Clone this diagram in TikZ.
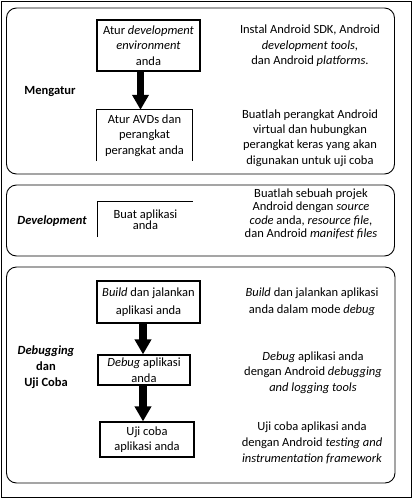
\documentclass[tikz,border=0pt]{standalone}
\usepackage{fontspec}
\setmainfont{Carlito}
\usetikzlibrary{arrows.meta}
\begin{document}
\begin{tikzpicture}[x=1pt,y=-1pt,
  txt/.style={align=center, font=\fontsize{12.5}{15.5}\selectfont, inner sep=0pt},
  lbl/.style={align=center, font=\bfseries\fontsize{12.5}{16}\selectfont, inner sep=0pt},
  panel/.style={draw, line width=0.9pt, rounded corners=10pt},
  boxln/.style={line width=1.2pt},
  blk/.style={line width=7.5pt, -{Triangle[width=16pt,length=15pt]}},
]
\useasboundingbox (0,0) rectangle (413,499);
\draw[line width=1.3pt] (1.5,1.5) rectangle (411.5,497.5);

% panels
\draw[panel] (6.5,8) rectangle (394.5,174);
\draw[panel] (6.5,185) rectangle (394.5,256);
\draw[panel] (6.5,267) rectangle (395,483);

% ---------- Mengatur ----------
\node[lbl] (m) at (50,92) {Mengatur};
\node[txt, draw, boxln, minimum width=103pt, minimum height=51pt] (b1) at (148.5,45.5)
  {Atur \textit{development}\\\textit{environment}\\anda};
\node[txt, minimum width=95pt, minimum height=51pt] (b2) at (144.5,135.5)
  {Atur AVDs dan\\perangkat\\perangkat anda};
\draw[boxln] (b2.south west) -- (b2.north west) -- (b2.north east) -- (b2.south east);
\coordinate (a1) at (140.5,0);
\draw[blk] (b1.south -| a1) -- (b2.north -| a1);

\node[txt] (r1) at (310,46) {Instal Android SDK, Android\\\textit{development tools,}\\dan Android \textit{platforms}.};
\node[txt, font=\fontsize{12.5}{15.3}\selectfont] (r2) at (310,138) {Buatlah perangkat Android\\virtual dan hubungkan\\perangkat keras yang akan\\digunakan untuk uji coba};

% ---------- Development ----------
\node[lbl, font=\bfseries\itshape\fontsize{12.5}{16}\selectfont] (d) at (52,221) {Development};
\node[txt, font=\fontsize{12.5}{11.5}\selectfont, minimum width=95pt, minimum height=35pt] (b3) at (145.5,219.5)
  {Buat aplikasi\\anda};
\draw[boxln] (b3.south west) -- (b3.north west) -- (b3.north east);
\node[txt, font=\fontsize{12.5}{13.5}\selectfont] (r3) at (311,214)
  {Buatlah sebuah projek\\Android dengan \textit{source}\\\textit{code} anda, \textit{resource file},\\dan Android \textit{manifest files}};

% ---------- Debugging dan Uji Coba ----------
\node[lbl] (dbg) at (46,367) {\textit{Debugging}\\dan\\Uji Coba};
\node[txt, font=\fontsize{12.5}{17.5}\selectfont, draw, boxln, minimum width=103pt, minimum height=42pt] (b4) at (148.5,302)
  {\textit{Build} dan jalankan\\aplikasi anda};
\node[txt, font=\fontsize{12.5}{16}\selectfont, draw, boxln, minimum width=92pt, minimum height=30pt] (b5) at (144,370)
  {\textit{Debug} aplikasi\\anda};
\node[txt, font=\fontsize{12.5}{14.5}\selectfont, draw, boxln, minimum width=94pt, minimum height=35pt] (b6) at (147,439.5)
  {Uji coba\\aplikasi anda};
\coordinate (a2) at (143,0);
\draw[blk] (b4.south -| a2) -- (b5.north -| a2);
\draw[blk] (b5.south -| a2) -- (b6.north -| a2);

\node[txt, font=\fontsize{12.5}{17}\selectfont] (r4) at (312,301.5)
  {\textit{Build} dan jalankan aplikasi\\anda dalam mode \textit{debug}};
\node[txt] (r5) at (313,372.5)
  {\textit{Debug} aplikasi anda\\dengan Android \textit{debugging}\\\textit{and logging tools}};
\node[txt, font=\fontsize{12.5}{16}\selectfont] (r6) at (312,443)
  {Uji coba aplikasi anda\\dengan Android \textit{testing and}\\\textit{instrumentation framework}};
\end{tikzpicture}
\end{document}
